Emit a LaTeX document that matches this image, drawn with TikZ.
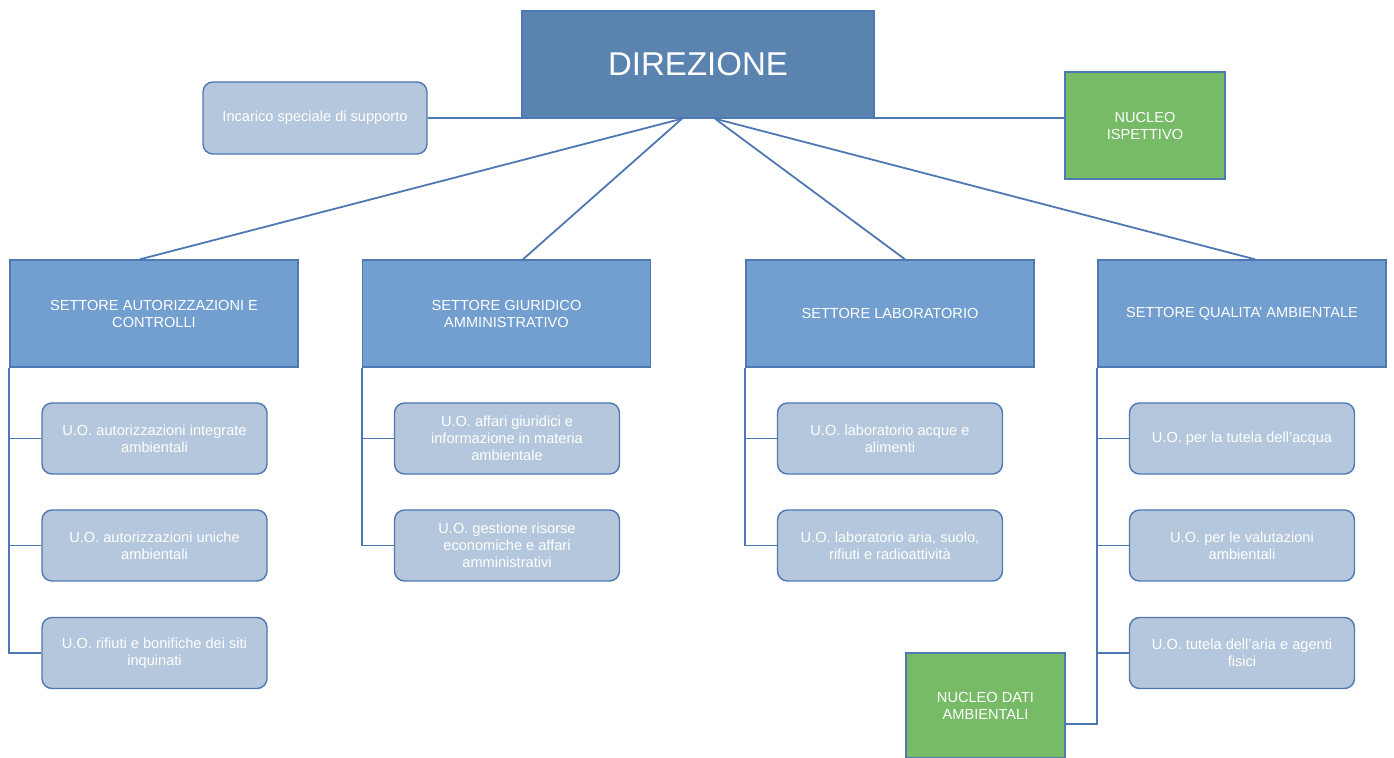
\documentclass[tikz,border=0pt]{standalone}
\usepackage{fontspec}
\setmainfont{Liberation Sans}
\usetikzlibrary{calc}
\definecolor{dirfill}{HTML}{5A83B0}
\definecolor{setfill}{HTML}{729FCF}
\definecolor{uofill}{HTML}{B4C7DC}
\definecolor{bordc}{HTML}{4E78B2}
\definecolor{greenfill}{HTML}{77BB66}
\tikzset{
  dirbox/.style={draw=bordc, line width=0.7pt, fill=dirfill, minimum width=176pt, minimum height=53.5pt, inner sep=0pt, text=white, font=\fontsize{16.5pt}{19pt}\selectfont},
  setbox/.style={draw=bordc, line width=0.7pt, fill=setfill, minimum width=144pt, minimum height=53.5pt, inner sep=0pt, text=white, align=center, font=\fontsize{7.3pt}{8.5pt}\selectfont},
  uobox/.style={draw=bordc, line width=0.7pt, fill=uofill, rounded corners=5pt, minimum width=112.5pt, minimum height=35.5pt, inner sep=0pt, text=white, align=center, font=\fontsize{7.3pt}{8.5pt}\selectfont},
  greenbox/.style={draw=bordc, line width=0.7pt, fill=greenfill, inner sep=0pt, text=white, align=center, font=\fontsize{7.3pt}{8.5pt}\selectfont},
  conn/.style={draw=bordc, line width=0.9pt}
}
\begin{document}
\begin{tikzpicture}[x=0.5pt,y=-0.5pt]
\useasboundingbox (0,0) rectangle (1394,758);
% top level
\node[dirbox] (dir) at (698,64.5) {DIREZIONE};
\node[uobox, minimum width=112pt, minimum height=36pt] (inc) at (315,118) {Incarico speciale di supporto};
\node[greenbox, minimum width=80pt, minimum height=53.5pt] (nisp) at (1145,125.5) {NUCLEO\\ISPETTIVO};
% settori
\node[setbox] (aut) at (154,313.5) {SETTORE AUTORIZZAZIONI E\\CONTROLLI};
\node[setbox] (giu) at (506.5,313.5) {SETTORE GIURIDICO\\AMMINISTRATIVO};
\node[setbox] (lab) at (890,313.5) {SETTORE LABORATORIO};
\node[setbox] (qua) at (1242,313.5) {SETTORE QUALITA’ AMBIENTALE};
% U.O.
\node[uobox] (u11) at (154.5,438.5) {U.O. autorizzazioni integrate\\ambientali};
\node[uobox] (u12) at (154.5,545.5) {U.O. autorizzazioni uniche\\ambientali};
\node[uobox] (u13) at (154.5,653) {U.O. rifiuti e bonifiche dei siti\\inquinati};
\node[uobox] (u21) at (507,438.5) {U.O. affari giuridici e\\informazione in materia\\ambientale};
\node[uobox] (u22) at (507,545.5) {U.O. gestione risorse\\economiche e affari\\amministrativi};
\node[uobox] (u31) at (890,438.5) {U.O. laboratorio acque e\\alimenti};
\node[uobox] (u32) at (890,545.5) {U.O. laboratorio aria, suolo,\\rifiuti e radioattività};
\node[uobox] (u41) at (1242,438.5) {U.O. per la tutela dell’acqua};
\node[uobox] (u42) at (1242,545.5) {U.O. per le valutazioni\\ambientali};
\node[uobox] (u43) at (1242,653) {U.O. tutela dell’aria e agenti\\fisici};
\node[greenbox, minimum width=79.5pt, minimum height=52.5pt, text depth=0pt] (ndat) at (985.5,705.5) {NUCLEO DATI\\AMBIENTALI};
% connector anchor points
\coordinate (dl) at ($(dir.south)+(-16,0)$);
\coordinate (dr) at ($(dir.south)+(17,0)$);
\coordinate (ta) at ($(aut.north)+(-14,0)$);
\coordinate (tg) at ($(giu.north)+(16.5,0)$);
\coordinate (tl) at ($(lab.north)+(15,0)$);
\coordinate (tq) at ($(qua.north)+(13,0)$);
\coordinate (nd) at ($(ndat.east)+(0,18.5)$);
% connectors
\draw[conn] (inc.east) -- (inc.east -| nisp.west);
\draw[conn] (dl) -- (ta);
\draw[conn] (dl) -- (tg);
\draw[conn] (dr) -- (tl);
\draw[conn] (dr) -- (tq);
\draw[conn] (aut.south west) |- (u13.west);
\draw[conn] (aut.south west |- u11.west) -- (u11.west);
\draw[conn] (aut.south west |- u12.west) -- (u12.west);
\draw[conn] (giu.south west) |- (u22.west);
\draw[conn] (giu.south west |- u21.west) -- (u21.west);
\draw[conn] (lab.south west) |- (u32.west);
\draw[conn] (lab.south west |- u31.west) -- (u31.west);
\draw[conn] (qua.south west) |- (nd);
\draw[conn] (qua.south west |- u41.west) -- (u41.west);
\draw[conn] (qua.south west |- u42.west) -- (u42.west);
\draw[conn] (qua.south west |- u43.west) -- (u43.west);
\end{tikzpicture}
\end{document}
